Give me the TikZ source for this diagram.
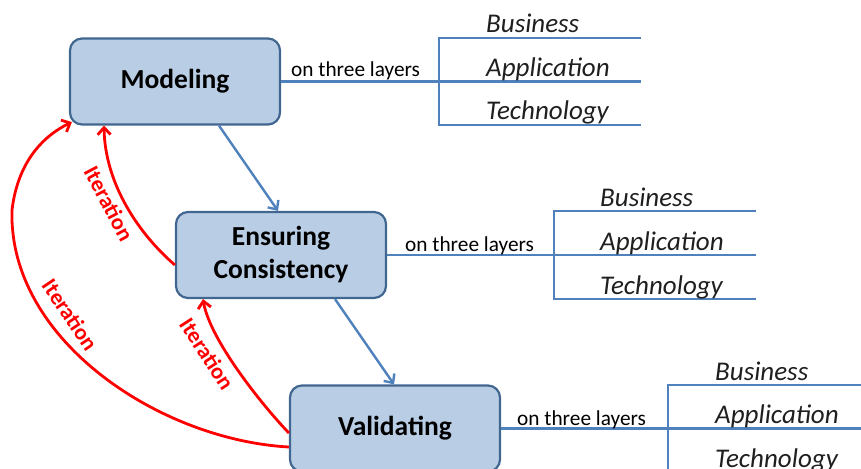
\documentclass[tikz,border=0pt]{standalone}
\usepackage{fontspec}
\setmainfont{Carlito}
\usetikzlibrary{arrows.meta}
\definecolor{boxfill}{HTML}{B9CDE5}
\definecolor{boxdraw}{HTML}{41668F}
\definecolor{lineblue}{HTML}{4F81BD}
\definecolor{itred}{HTML}{FF0000}
\begin{document}
\begin{tikzpicture}[x=1pt,y=-1pt,
  stage/.style={draw=boxdraw, fill=boxfill, line width=2.2pt, rounded corners=12pt,
    minimum width=210pt, minimum height=86pt, align=center, inner sep=0pt,
    font=\fontsize{27.5}{33}\selectfont\bfseries, text=black},
  layertext/.style={anchor=base west, inner sep=0pt,
    font=\fontsize{27}{30}\selectfont\itshape, text=black!88},
  ontext/.style={anchor=base west, inner sep=0pt, font=\fontsize{21.3}{24}\selectfont, text=black},
  bline/.style={draw=lineblue, line width=2.4pt},
  flow/.style={bline, -{Straight Barb[length=7pt,width=13pt]}},
  iter/.style={draw=itred, line width=2.8pt, -{Straight Barb[length=7pt,width=13pt]}},
  itlabel/.style={inner sep=0pt, font=\fontsize{22.5}{24}\selectfont\bfseries, text=itred}
]
\useasboundingbox (0,0) rectangle (861,468);

% stages
\node[stage] (mod) at (175,81.5) {Modeling};
\node[stage] (ens) at (281,255) {Ensuring\\Consistency};
\node[stage] (val) at (395,428.5) {Validating};

% flow arrows
\draw[flow] ([xshift=44pt]mod.south) -- ([xshift=-3pt]ens.north);
\draw[flow] ([xshift=54pt]ens.south) -- ([xshift=-1pt]val.north);

% layer brackets
\foreach \s/\bx/\yt/\ym/\yb/\ox/\oy/\lx in
  {mod/439/38/81.5/125/291/77/486,
   ens/554/211/255/299/405/251/600,
   val/668/385/428.5/472/517/425/715}{
  \coordinate (\s-bm) at (\bx,\ym);
  \coordinate (\s-bt) at (\bx,\yt);
  \coordinate (\s-bb) at (\bx,\yb);
  \coordinate (\s-et) at (\bx+202,\yt);
  \coordinate (\s-em) at (\bx+202,\ym);
  \coordinate (\s-eb) at (\bx+202,\yb);
  \draw[bline] (\s.east) -- (\s-bm) -- (\s-em);
  \draw[bline] (\s-et) -- (\s-bt) -- (\s-bb) -- (\s-eb);
  \node[ontext] (\s-on) at (\ox,\oy) {on three layers};
  \node[layertext] (\s-bus) at (\lx,\yt-5) {Business};
  \node[layertext] (\s-app) at (\lx,\ym-5) {Application};
  \node[layertext] (\s-tec) at (\lx,\yb-5) {Technology};
}

% iteration arrows
\coordinate (itmid) at (12,210);
\draw[iter] ([yshift=-10pt]ens.west) .. controls (140,235) and (105,185) .. ([xshift=-71pt]mod.south);
\draw[iter] ([yshift=-18.5pt]val.west) .. controls (160,440) and (8,340) .. (itmid)
  .. controls (18,160) and (45,135) .. ([xshift=3pt,yshift=3.5pt]mod.south west);
\draw[iter] ([yshift=-4.5pt]val.west) .. controls (262,405) and (210,340) .. ([xshift=-78pt]ens.south);

\node[itlabel, rotate=-62] (it1) at (109,203.5) {Iteration};
\node[itlabel, rotate=-56] (it2) at (70,315) {Iteration};
\node[itlabel, rotate=-57] (it3) at (207,354) {Iteration};
\end{tikzpicture}
\end{document}
